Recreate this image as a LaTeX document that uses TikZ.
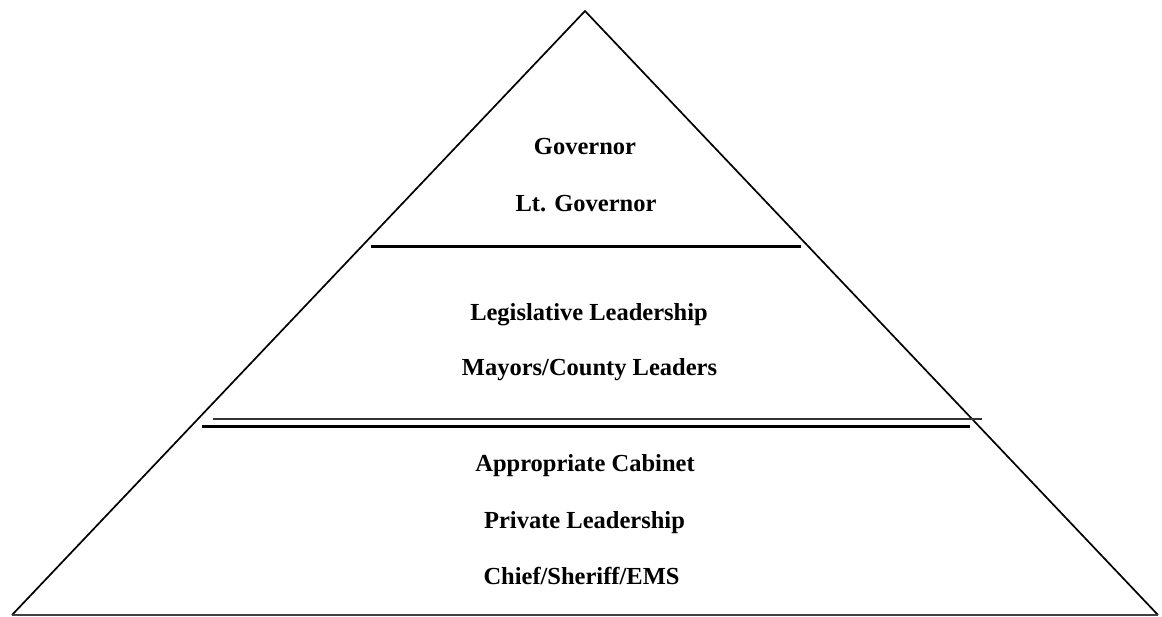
\documentclass[tikz,border=0pt]{standalone}
\usepackage{fontspec}
\setmainfont{Liberation Serif}
\begin{document}
\begin{tikzpicture}[x=1pt,y=-1pt,
  lbl/.style={anchor=base,inner sep=0pt,font=\fontsize{24.5}{29}\selectfont\bfseries},
  edge/.style={line width=1.7pt,line join=miter},
  thickline/.style={line width=3pt},
  thinline/.style={line width=1.4pt,black!80}]
\useasboundingbox (0,0) rectangle (1162,617);
\coordinate (apex) at (585,11);
\coordinate (bl) at (12,615);
\coordinate (br) at (1158,615);
\draw[edge] (bl) -- (apex) -- (br);
\draw[line width=1.3pt,black!75] (bl) -- (br);
% upper divider
\coordinate (d1a) at (371,246.5);
\coordinate (d1b) at (801,246.5);
\draw[thickline] (d1a) -- (d1b);
% double divider
\coordinate (d2a) at (213,419);
\coordinate (d2b) at (982,419);
\coordinate (d3a) at (202,426);
\coordinate (d3b) at (970,426);
\draw[thinline] (d2a) -- (d2b);
\draw[thickline] (d3a) -- (d3b);
% labels
\node[lbl] (gov) at (585,155) {Governor};
\node[lbl] (ltgov) at (586,212) {Lt. Governor};
\node[lbl] (leg) at (589,321) {Legislative Leadership};
\node[lbl] (may) at (589.5,376) {Mayors/County Leaders};
\node[lbl] (cab) at (585,471) {Appropriate Cabinet};
\node[lbl] (priv) at (584.5,528) {Private Leadership};
\node[lbl] (chief) at (581.5,584) {Chief/Sheriff/EMS};
\end{tikzpicture}
\end{document}
